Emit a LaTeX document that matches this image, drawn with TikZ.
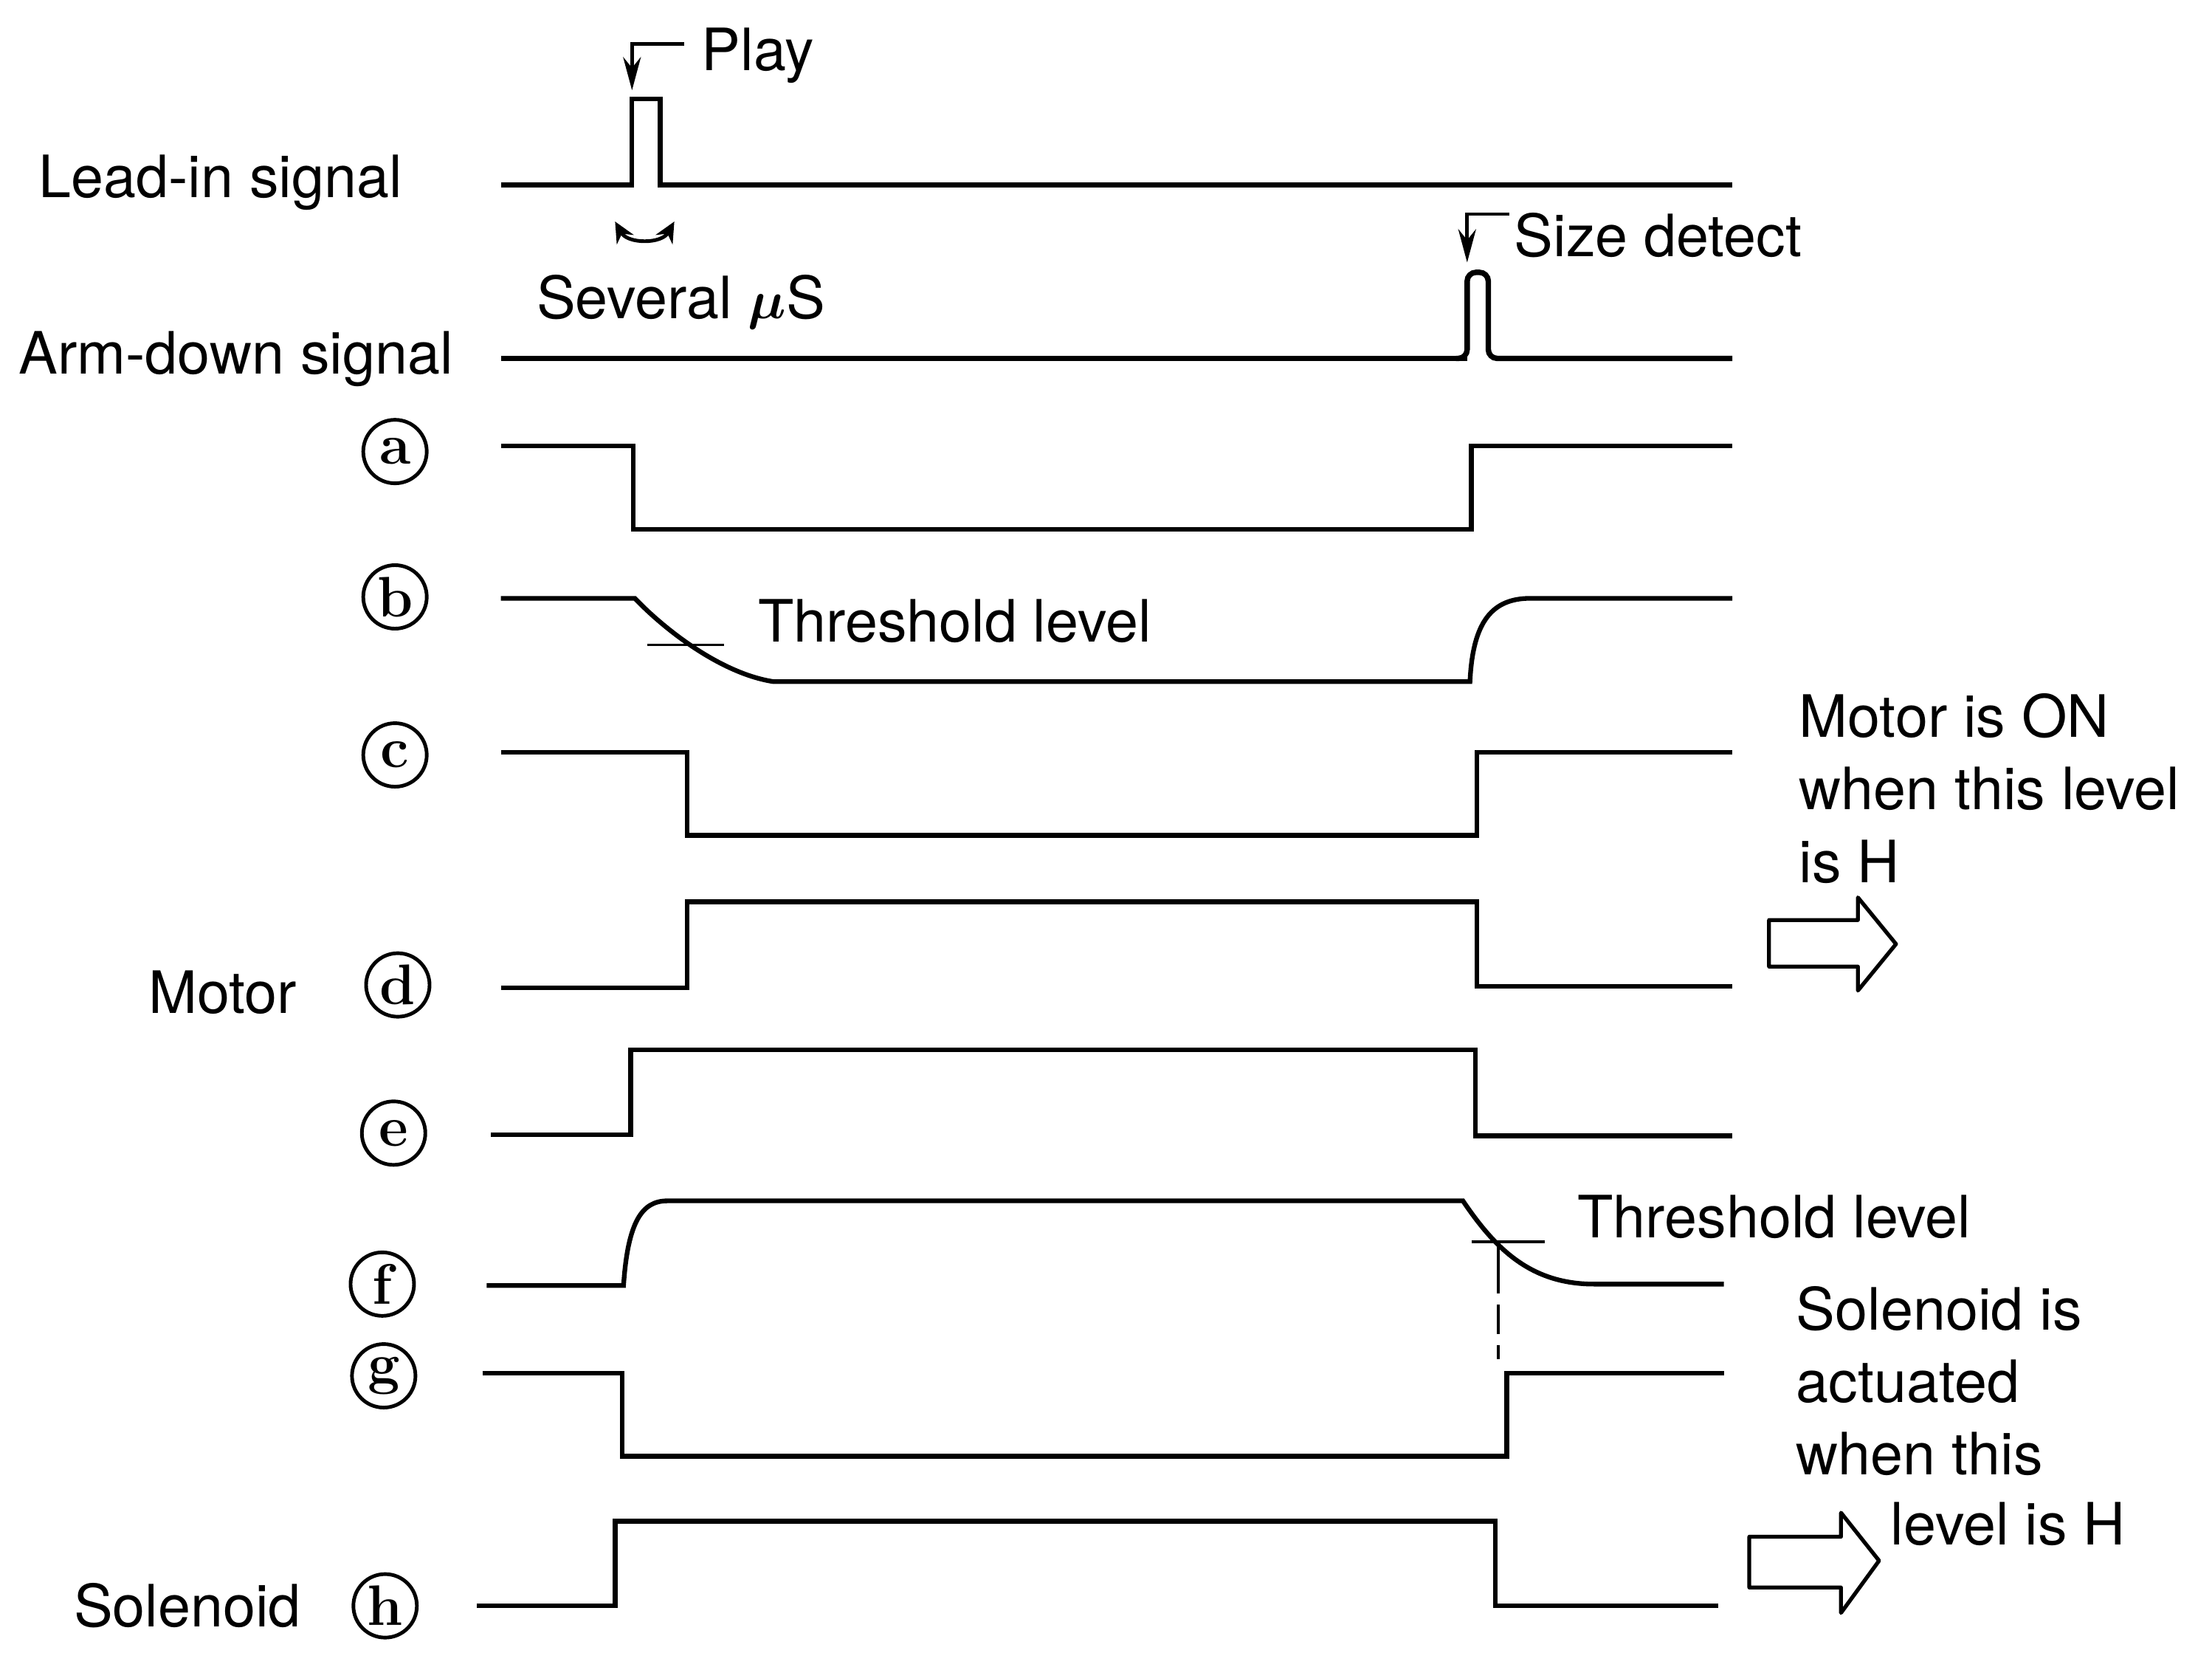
\documentclass[tikz,border=0pt]{standalone}
\usepackage{fontspec}
\newfontfamily\lblfont{TeX Gyre Heros}
\usetikzlibrary{arrows.meta}

\begin{document}
\begin{tikzpicture}[x=0.1911mm, y=-0.1911mm,
  sig/.style={line width=1.8pt},
  txt/.style={font=\lblfont\fontsize{22.5}{28}\selectfont, inner sep=0pt},
  tag/.style={draw,circle,line width=1.4pt,minimum size=8.6mm,inner sep=0pt,
    font=\fontsize{22}{22}\selectfont\bfseries},
  ptr/.style={line width=1.4pt,-{Stealth[length=4.5mm,width=2.4mm]}},
  dim/.style={line width=1.4pt,{Stealth[length=2.8mm,width=2.6mm]}-{Stealth[length=2.8mm,width=2.6mm]}},
  thr/.style={line width=1pt},
  fat/.style={line width=1.5pt,line join=round},
]
\useasboundingbox (0,0) rectangle (1568,1171);

% Row labels
\node[txt, anchor=base west] (leadLbl) at (27,140) {Lead-in signal};
\node[txt, anchor=base west] (armLbl) at (13,265) {Arm-down signal};
\node[txt, anchor=base west] (motorLbl) at (105,718) {Motor};
\node[txt, anchor=base west] (solLbl) at (52,1153) {Solenoid};

% Circled tags
\node[tag] (tagA) at (280,320) {a};
\node[tag] (tagB) at (280,423) {b};
\node[tag] (tagC) at (280,535) {c};
\node[tag] (tagD) at (282,698) {d};
\node[tag] (tagE) at (279,803) {e};
\node[tag] (tagF) at (271,910) {f};
\node[tag] (tagG) at (272,975) {g};
\node[tag] (tagH) at (273,1138) {h};

% Lead-in signal
\draw[sig] (355,131) -- (448,131) -- (448,70) -- (468,70) -- (468,131) -- (1228,131);
\node[txt, anchor=base west, inner xsep=2.3mm] (play) at (485,50) {Play};
\coordinate (playTip) at (448,64);
\draw[ptr] ([yshift=1.6mm]play.west) -| (playTip);
\draw[dim] (436,157) .. controls (445,173) and (469,173) .. (478,157);
\node[txt, anchor=base west] (sev) at (380,226) {Several {\boldmath$\mu$}S};

% Arm-down signal
\draw[sig] (355,254) -- (1040,254);
\draw[sig, line width=2.1pt, rounded corners=1.2mm] (1032,254) -- (1040,254) -- (1040,193) -- (1055,193) -- (1055,254) -- (1228,254);
\node[txt, anchor=base west, inner xsep=0.6mm] (size) at (1070,182) {Size detect};
\coordinate (sizeTip) at (1040,186);
\draw[ptr] ([yshift=2.9mm]size.west) -| (sizeTip);

% (a)
\draw[sig] (355,316) -- (449,316) -- (449,375) -- (1043,375) -- (1043,316) -- (1228,316);

% (b)
\draw[sig] (355,424) -- (450,424) .. controls (470,445) and (510,477) .. (548,483)
  -- (1042,483) .. controls (1044,440) and (1058,424) .. (1085,424) -- (1228,424);
\draw[thr] (459,457) -- (513,457);
\node[txt, anchor=base west] (thrB) at (537,455) {Threshold level};

% (c)
\draw[sig] (355,533) -- (487,533) -- (487,592) -- (1047,592) -- (1047,533) -- (1228,533);

% (d) motor
\draw[sig] (355,700) -- (487,700) -- (487,639) -- (1047,639) -- (1047,699) -- (1228,699);

% (e)
\draw[sig] (348,804) -- (447,804) -- (447,744) -- (1046,744) -- (1046,805) -- (1228,805);

% (f)
\draw[sig] (345,911) -- (442,911) .. controls (445,866) and (455,851) .. (473,851)
  -- (1037,851) .. controls (1060,885) and (1085,910) .. (1130,910) -- (1222,910);
\draw[thr] (1043,880) -- (1095,880);
\draw[thr, dash pattern=on 7mm off 1.5mm on 4mm off 1.5mm] (1062,880) -- (1062,963);
\node[txt, anchor=base west] (thrF) at (1118,877) {Threshold level};

% (g)
\draw[sig] (342,973) -- (441,973) -- (441,1032) -- (1068,1032) -- (1068,973) -- (1222,973);

% (h) solenoid
\draw[sig] (338,1138) -- (436,1138) -- (436,1078) -- (1060,1078) -- (1060,1138) -- (1218,1138);

% Notes
\node[txt, anchor=north west, align=left] (motorNote) at (1275,491) {Motor is ON\\when this level\\is H};
\draw[fat] (1254,652) -- (1317,652) -- (1317,636) -- (1344,669) -- (1317,702) -- (1317,685) -- (1254,685) -- cycle;
\node[txt, anchor=north west, align=left] (solNote) at (1273,911) {Solenoid is\\actuated\\when this};
\node[txt, anchor=base west] (solNoteB) at (1340,1095) {level is H};
\draw[fat] (1240,1089) -- (1305,1089) -- (1305,1072) -- (1332,1106) -- (1305,1143) -- (1305,1125) -- (1240,1125) -- cycle;

\end{tikzpicture}
\end{document}
